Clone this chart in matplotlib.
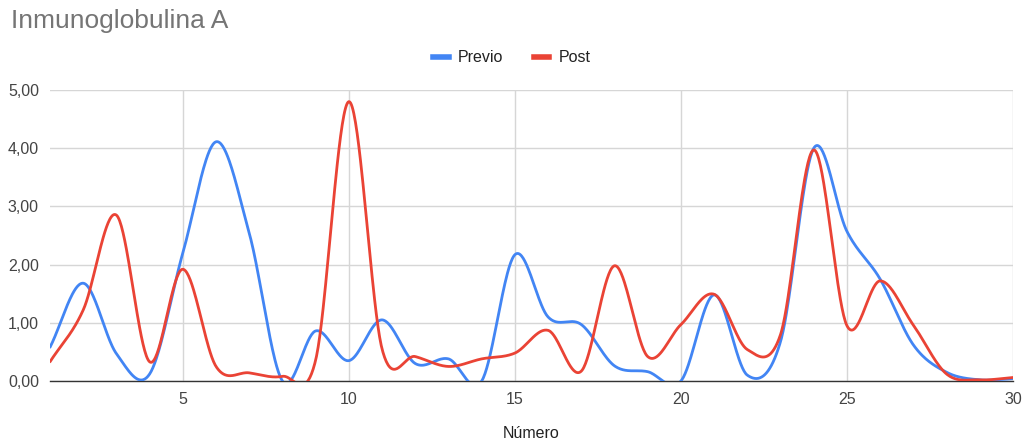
import numpy as np
import matplotlib
matplotlib.use("Agg")
import matplotlib.pyplot as plt
from matplotlib.lines import Line2D

# Datos
numero = list(range(1, 31))
previo = [0.58, 1.68, 0.47, 0.12, 2.2, 4.11, 2.54, 0.0, 0.86, 0.35,
          1.05, 0.3, 0.38, 0.0, 2.17, 1.1, 0.97, 0.26, 0.16, 0.0,
          1.48, 0.1, 0.68, 4.0, 2.57, 1.75, 0.62, 0.15, 0.02, 0.04]
post = [0.33, 1.22, 2.85, 0.33, 1.92, 0.25, 0.14, 0.08, 0.36, 4.8,
        0.55, 0.42, 0.25, 0.38, 0.48, 0.87, 0.17, 1.98, 0.42, 0.97,
        1.49, 0.54, 0.8, 3.97, 0.95, 1.72, 0.96, 0.12, 0.02, 0.06]


# curva suavizada tipo Catmull-Rom que pasa por los puntos
def smooth(x, y, n=40):
    x = np.asarray(x, float)
    y = np.asarray(y, float)
    xs, ys = [], []
    for i in range(len(x) - 1):
        y0 = y[i - 1] if i > 0 else y[i]
        y3 = y[i + 2] if i + 2 < len(y) else y[i + 1]
        m1 = (y[i + 1] - y0) / 2 if i > 0 else (y[i + 1] - y[i])
        m2 = (y3 - y[i]) / 2 if i + 2 < len(y) else (y[i + 1] - y[i])
        t = np.linspace(0, 1, n, endpoint=False)
        h00 = 2 * t**3 - 3 * t**2 + 1
        h10 = t**3 - 2 * t**2 + t
        h01 = -2 * t**3 + 3 * t**2
        h11 = t**3 - t**2
        xs.append(x[i] + t * (x[i + 1] - x[i]))
        ys.append(h00 * y[i] + h10 * m1 + h01 * y[i + 1] + h11 * m2)
    xs.append([x[-1]])
    ys.append([y[-1]])
    return np.concatenate(xs), np.concatenate(ys)


plt.rcParams['font.family'] = ['Liberation Sans', 'DejaVu Sans']

fig = plt.figure(figsize=(10.23, 4.43), dpi=100)
ax = fig.add_axes([50 / 1023, 1 - 381 / 443, 963 / 1023, 291 / 443])

blue = "#4285F4"
red = "#EA4335"

xb, yb = smooth(numero, previo)
xr, yr = smooth(numero, post)
ax.plot(xb, yb, color=blue, lw=2.0, solid_capstyle="round", zorder=3)
ax.plot(xr, yr, color=red, lw=2.0, solid_capstyle="round", zorder=4)

ax.set_xlim(1, 30)
ax.set_ylim(0, 5)
ax.set_xticks([5, 10, 15, 20, 25, 30])
ax.set_yticks([0, 1, 2, 3, 4, 5])
ax.set_yticklabels(["0,00", "1,00", "2,00", "3,00", "4,00", "5,00"])
ax.tick_params(length=0, labelsize=11.5, colors="#444444", pad=8)
ax.grid(True, color="#d6d6d6", lw=1)
ax.set_axisbelow(True)
for s in ["top", "left", "right"]:
    ax.spines[s].set_visible(False)
ax.spines["bottom"].set_color("#333333")
ax.spines["bottom"].set_linewidth(1)

# etiqueta del eje x colocada a mano para que no se corte
fig.text(531 / 1023, 1 - 434 / 443, "Número", fontsize=11.5,
         color="#222222", ha="center", va="center")

fig.text(11 / 1023, 1 - 21 / 443, "Inmunoglobulina A", fontsize=19,
         color="#757575", va="center", ha="left")

handles = [Line2D([], [], color=blue, lw=4), Line2D([], [], color=red, lw=4)]
fig.legend(handles, ["Previo", "Post"], loc="center", ncol=2,
           bbox_to_anchor=(512 / 1023, 1 - 58 / 443), frameon=False,
           fontsize=11.5, handlelength=0.95, columnspacing=1.9,
           handletextpad=0.6, labelcolor="#222222")

fig.savefig("out.png", dpi=100, facecolor="white")
